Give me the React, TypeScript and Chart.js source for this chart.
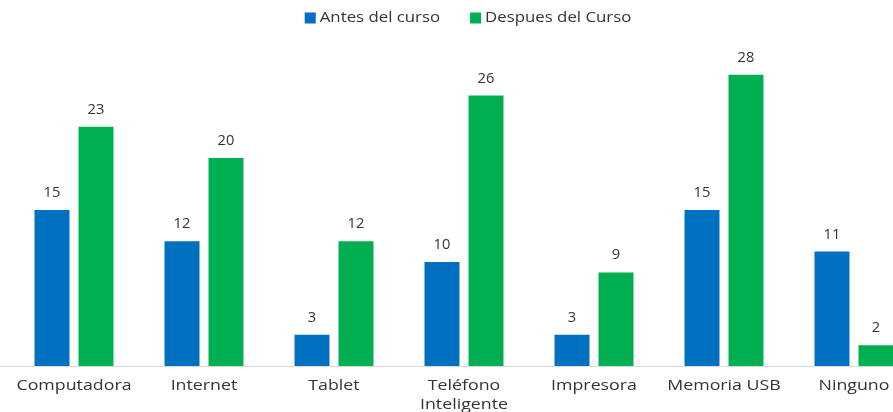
import React, { useEffect, useRef } from "react";
import { Chart, registerables } from "chart.js";

Chart.register(...registerables);

const categories: (string | string[])[] = [
  "Computadora",
  "Internet",
  "Tablet",
  ["Teléfono", "Inteligente"],
  "Impresora",
  "Memoria USB",
  "Ninguno",
];
const antesValues = [15, 12, 3, 10, 3, 15, 11];
const despuesValues = [23, 20, 12, 26, 9, 28, 2];
const seriesNames = ["Antes del curso", "Despues del Curso"];
const seriesColors = ["#0070C0", "#00B050"];

const FONT = "'Open Sans', 'Liberation Sans', sans-serif";
const TEXT = "#333338";

function stretchedText(ctx: any, text: string, x: number, y: number, sx: number, align: string) {
  ctx.save();
  ctx.translate(x, y);
  ctx.scale(sx, 1);
  ctx.textAlign = align;
  ctx.fillText(text, 0, 0);
  ctx.restore();
}

const customText = {
  id: "customText",
  beforeDatasetsDraw(chart: any) {
    const ctx = chart.ctx;
    const y = Math.round(chart.chartArea.bottom) + 0.5;
    ctx.save();
    ctx.strokeStyle = "#d9d9d9";
    ctx.lineWidth = 1;
    ctx.beginPath();
    ctx.moveTo(0, y);
    ctx.lineTo(chart.width, y);
    ctx.stroke();
    ctx.restore();
  },
  afterDraw(chart: any) {
    const ctx = chart.ctx;
    ctx.save();
    ctx.fillStyle = TEXT;
    ctx.textBaseline = "middle";

    // data labels
    ctx.font = `14px ${FONT}`;
    chart.data.datasets.forEach((ds: any, di: number) => {
      const meta = chart.getDatasetMeta(di);
      meta.data.forEach((bar: any, i: number) => {
        stretchedText(ctx, String(ds.data[i]), bar.x, bar.y - 17, 1.05, "center");
      });
    });

    // category labels
    const xs = chart.scales.x;
    const base = chart.chartArea.bottom;
    ctx.font = `14px ${FONT}`;
    (chart.data.labels as any[]).forEach((lab: any, i: number) => {
      const lines = Array.isArray(lab) ? lab : [lab];
      const x = xs.getPixelForValue(i);
      lines.forEach((ln: string, li: number) => {
        stretchedText(ctx, ln, x, base + 20 + li * 19, 1.27, "center");
      });
    });

    // legend
    ctx.font = `14px ${FONT}`;
    const sx = 1.2;
    const box = 11;
    const gapBox = 4;
    const gapItem = 30;
    const widths = seriesNames.map((n) => ctx.measureText(n).width * sx);
    const total = widths.reduce((a, w) => a + box + gapBox + w, 0) + gapItem * (seriesNames.length - 1);
    let x = chart.width / 2 - total / 2;
    const cy = 18;
    seriesNames.forEach((n, i) => {
      ctx.fillStyle = seriesColors[i];
      ctx.fillRect(x, cy - box / 2, box, box);
      x += box + gapBox;
      ctx.fillStyle = TEXT;
      stretchedText(ctx, n, x, cy, sx, "left");
      x += widths[i] + gapItem;
    });
    ctx.restore();
  },
};

export default function App() {
  const ref = useRef<HTMLCanvasElement>(null);
  useEffect(() => {
    if (!ref.current) return;
    const chart = new Chart(ref.current, {
      type: "bar",
      data: {
        labels: categories,
        datasets: [
          {
            label: seriesNames[0],
            data: antesValues,
            backgroundColor: seriesColors[0],
            categoryPercentage: 0.677,
            barPercentage: 0.795,
          },
          {
            label: seriesNames[1],
            data: despuesValues,
            backgroundColor: seriesColors[1],
            categoryPercentage: 0.677,
            barPercentage: 0.795,
          },
        ],
      },
      options: {
        responsive: false,
        animation: false,
        layout: { padding: { left: 9, right: 17, top: 54, bottom: 0 } },
        plugins: {
          legend: { display: false },
          tooltip: { enabled: false },
        },
        scales: {
          y: {
            display: false,
            min: 0,
            max: 30,
          },
          x: {
            grid: { display: false, drawTicks: false },
            border: { display: false },
            ticks: { display: false },
            afterFit: (s: any) => {
              s.height = 46;
            },
          },
        },
      },
      plugins: [customText],
    });
    return () => chart.destroy();
  }, []);
  return (
    <div
      style={{
        position: "absolute",
        left: 0,
        top: 0,
        width: 893,
        height: 412,
        overflow: "hidden",
        background: "#fff",
      }}
    >
      <canvas ref={ref} width={936} height={412} style={{ display: "block" }} />
    </div>
  );
}
